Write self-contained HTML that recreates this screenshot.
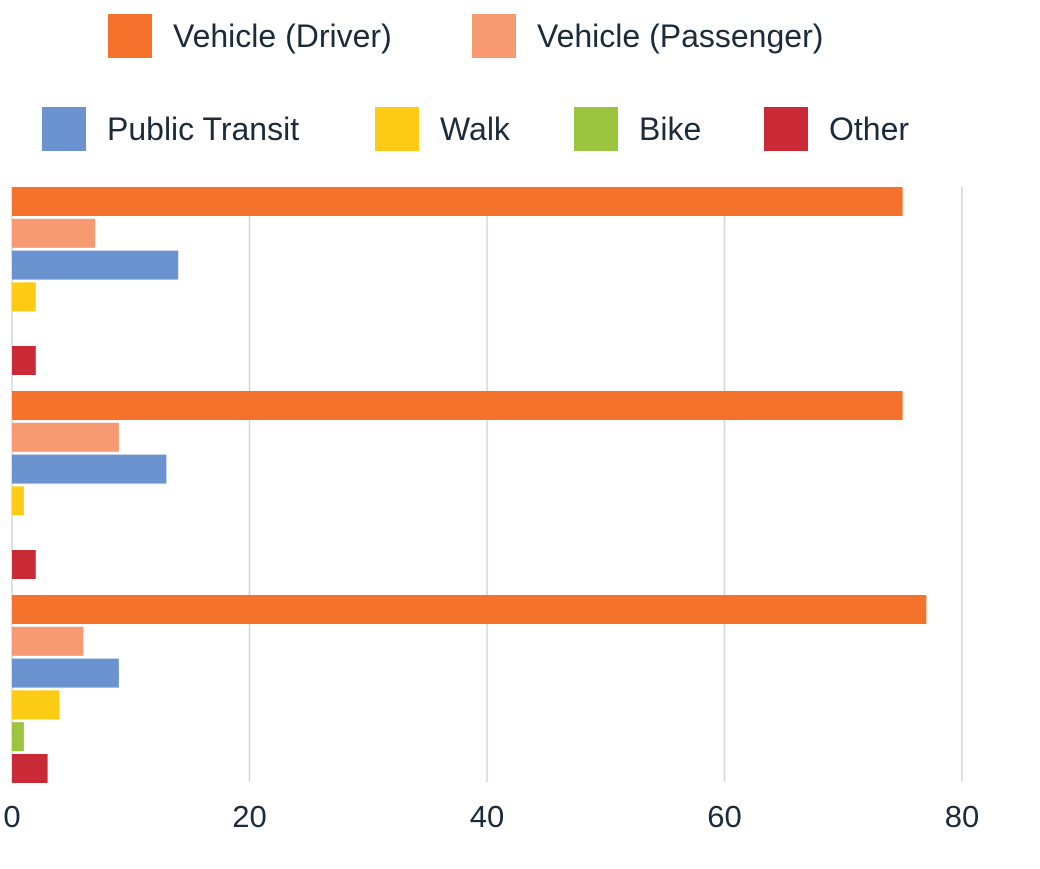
<!DOCTYPE html>
<html><head><meta charset="utf-8"><style>
body{margin:0;background:#fff;width:1040px;height:864px;overflow:hidden;font-family:"Liberation Sans",sans-serif;}
</style></head><body>
<svg id="chart" width="1040" height="864"></svg>
<script>
const categories=["Group 1","Group 2","Group 3"];
const seriesNames=["Vehicle (Driver)","Vehicle (Passenger)","Public Transit","Walk","Bike","Other"];
const seriesColors=["#f4722b","#f79a72","#6a93cf","#fccb13","#9bc43f","#c92a35"];
const driver=[75,75,77];
const passenger=[7,9,6];
const transit=[14,13,9];
const walk=[2,1,4];
const bike=[0,0,1];
const other=[2,2,3];
const ticks=[0,20,40,60,80];
const series=[driver,passenger,transit,walk,bike,other];
const NS="http://www.w3.org/2000/svg";
const svg=document.getElementById('chart');
function el(t,a){const e=document.createElementNS(NS,t);for(const k in a)e.setAttribute(k,a[k]);svg.appendChild(e);return e;}
const x0=12,pxPer=11.875;
const x=v=>x0+v*pxPer;
const plotTop=187,groupStep=204,barStep=31.8,barH=29;
ticks.forEach(t=>{
 if(t>0){const g=el('line',{x1:x(t),x2:x(t),y1:plotTop,y2:782,stroke:'#cfd8d8','stroke-width':1.5});
 
 }
 const tx=el('text',{x:x(t),y:827,'text-anchor':'middle','font-size':31,fill:'#1c2b3a'});
 tx.textContent=t;
 
 
});
const ax=el('line',{x1:x0,x2:x0,y1:plotTop,y2:782,stroke:'#cfd8d8','stroke-width':1.5});


categories.forEach((c,gi)=>{
 series.forEach((s,si)=>{
  const v=s[gi];
  const r=el('rect',{x:x0,y:plotTop+gi*groupStep+si*barStep,width:Math.max(0,x(v)-x0),height:barH,fill:seriesColors[si]});
  
  
 });
});
const legendPos=[[108,14],[472,14],[42,107],[375,107],[574,107],[764,107]];
seriesNames.forEach((n,i)=>{
 const [lx,ly]=legendPos[i];
 const sq=el('rect',{x:lx,y:ly,width:44,height:44,fill:seriesColors[i]});
 
 
 const t=el('text',{x:lx+65,y:ly+33,'font-size':32,fill:'#1c2b3a'});
 t.textContent=n;
 
 
});
</script>
</body></html>
